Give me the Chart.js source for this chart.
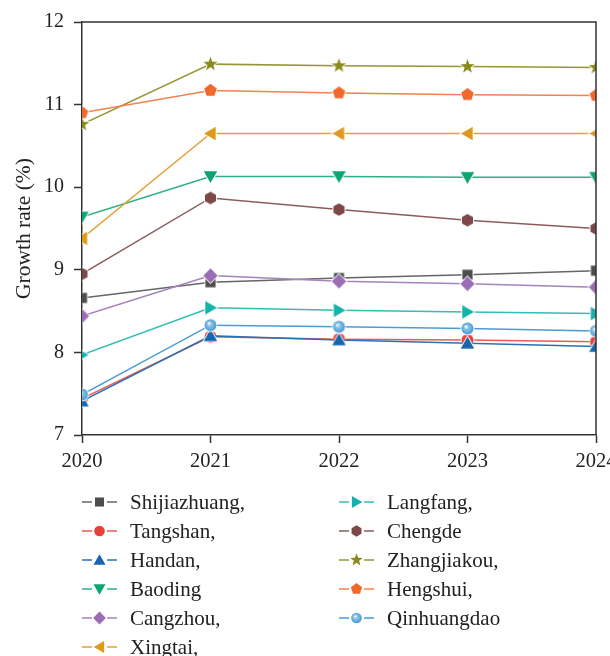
<!DOCTYPE html>
<html>
<head>
<meta charset="utf-8">
<script src="https://cdn.jsdelivr.net/npm/chart.js@4/dist/chart.umd.min.js"></script>
<style>
  html, body { margin: 0; padding: 0; overflow: hidden; background: #fff; }
  #wrap { position: absolute; left: 0; top: 0; width: 640px; height: 656px; }
</style>
</head>
<body>
<div id="wrap"><canvas id="chart" width="640" height="656"></canvas></div>
<script>
// anos e valores
const years = ['2020', '2021', '2022', '2023', '2024'];
const shijiazhuang = [8.66, 8.85, 8.90, 8.94, 8.99];
const tangshan = [7.44, 8.19, 8.16, 8.15, 8.13];
const handan = [7.41, 8.20, 8.15, 8.11, 8.07];
const baoding = [9.64, 10.13, 10.13, 10.12, 10.12];
const cangzhou = [8.44, 8.93, 8.86, 8.83, 8.79];
const xingtai = [9.38, 10.65, 10.65, 10.65, 10.65];
const langfang = [7.97, 8.54, 8.51, 8.49, 8.47];
const chengde = [8.95, 9.87, 9.73, 9.60, 9.50];
const zhangjiakou = [10.76, 11.49, 11.47, 11.46, 11.45];
const hengshui = [10.90, 11.17, 11.14, 11.12, 11.11];
const qinhuangdao = [7.49, 8.33, 8.31, 8.29, 8.26];
const yTicks = [7, 8, 9, 10, 11, 12];

const series = [
  { label: 'Shijiazhuang,', data: shijiazhuang, color: '#4d4d4d', line: '#666666', shape: 'square' },
  { label: 'Tangshan,', data: tangshan, color: '#e8403a', line: '#ec5a52', shape: 'circle' },
  { label: 'Handan,', data: handan, color: '#1565b0', line: '#2a72b8', shape: 'up' },
  { label: 'Baoding', data: baoding, color: '#0ba56f', line: '#2fb080', shape: 'down' },
  { label: 'Cangzhou,', data: cangzhou, color: '#9a6db5', line: '#a583bd', shape: 'diamond' },
  { label: 'Xingtai,', data: xingtai, color: '#df9a1e', line: '#e2a23a', shape: 'left' },
  { label: 'Langfang,', data: langfang, color: '#12b3a8', line: '#34bdb3', shape: 'right' },
  { label: 'Chengde', data: chengde, color: '#7e4848', line: '#8c5c5c', shape: 'hexagon' },
  { label: 'Zhangjiakou,', data: zhangjiakou, color: '#8a8a18', line: '#969634', shape: 'star' },
  { label: 'Hengshui,', data: hengshui, color: '#f2682a', line: '#f28250', shape: 'pentagon' },
  { label: 'Qinhuangdao', data: qinhuangdao, color: '#3e97d1', line: '#4a9cd3', shape: 'sphere' }
];

function poly(c, n, r, start) {
  for (let i = 0; i < n; i++) {
    const a = (start + i * 360 / n) * Math.PI / 180;
    const px = r * Math.cos(a), py = r * Math.sin(a);
    if (i === 0) c.moveTo(px, py); else c.lineTo(px, py);
  }
  c.closePath();
}

function drawMarker(c, shape, x, y, r, color, halo) {
  c.save();
  c.translate(x, y);
  c.beginPath();
  switch (shape) {
    case 'square': c.rect(-r * 0.78, -r * 0.78, r * 1.56, r * 1.56); break;
    case 'circle': c.arc(0, 0, r * 0.92, 0, Math.PI * 2); break;
    case 'sphere': c.arc(0, 0, r * 0.92, 0, Math.PI * 2); break;
    case 'up': c.translate(0, r * 0.2); poly(c, 3, r * 1.2, -90); break;
    case 'down': c.translate(0, -r * 0.2); poly(c, 3, r * 1.2, 90); break;
    case 'left': c.translate(r * 0.2, 0); poly(c, 3, r * 1.2, 180); break;
    case 'right': c.translate(-r * 0.2, 0); poly(c, 3, r * 1.2, 0); break;
    case 'diamond': poly(c, 4, r * 1.1, -90); break;
    case 'hexagon': poly(c, 6, r * 0.98, -90); break;
    case 'pentagon': poly(c, 5, r * 1.02, -90); break;
    case 'star':
      for (let i = 0; i < 10; i++) {
        const a = (-90 + i * 36) * Math.PI / 180;
        const rr = i % 2 === 0 ? r * 1.15 : r * 0.47;
        if (i === 0) c.moveTo(rr * Math.cos(a), rr * Math.sin(a));
        else c.lineTo(rr * Math.cos(a), rr * Math.sin(a));
      }
      c.closePath();
      break;
  }
  if (halo) {
    c.strokeStyle = 'rgba(255,255,255,0.9)';
    c.lineWidth = 2;
    c.stroke();
  }
  if (shape === 'sphere') {
    const g = c.createRadialGradient(-r * 0.25, -r * 0.3, r * 0.05, 0, 0, r);
    g.addColorStop(0, '#ffffff');
    g.addColorStop(0.3, '#8cc4ea');
    g.addColorStop(1, color);
    c.fillStyle = g;
  } else {
    c.fillStyle = color;
  }
  c.fill();
  c.restore();
}

function makePointImage(shape, color, r) {
  const s = Math.ceil(r * 2.6 + 4);
  const cv = document.createElement('canvas');
  cv.width = s; cv.height = s;
  drawMarker(cv.getContext('2d'), shape, s / 2, s / 2, r, color, true);
  return cv;
}

const datasets = series.map(function(s, i) {
  return {
    label: s.label,
    data: s.data,
    borderColor: s.line,
    backgroundColor: s.color,
    borderWidth: 1.5,
    pointStyle: makePointImage(s.shape, s.color, 6.5),
    pointRadius: 7,
    tension: 0,
    clip: 0,
    order: series.length - i
  };
});

// moldura de cima e da direita
const frame = {
  id: 'frame',
  afterDraw(chart) {
    const a = chart.chartArea, c = chart.ctx;
    c.save();
    c.strokeStyle = '#333';
    c.lineWidth = 1.5;
    c.beginPath();
    c.moveTo(a.left, a.top);
    c.lineTo(a.right, a.top);
    c.lineTo(a.right, a.bottom);
    c.stroke();
    c.restore();
  }
};

// legenda em duas colunas
const legenda = {
  id: 'legenda',
  afterDraw(chart) {
    const c = chart.ctx;
    c.save();
    c.font = '21px "Liberation Serif", "DejaVu Serif", serif';
    c.textBaseline = 'middle';
    series.forEach(function(s, i) {
      const col = i < 6 ? 0 : 1;
      const row = i < 6 ? i : i - 6;
      const x0 = col === 0 ? 82 : 339;
      const y = 502 + row * 29;
      c.strokeStyle = s.line;
      c.lineWidth = 1.5;
      c.beginPath();
      c.moveTo(x0, y); c.lineTo(x0 + 10, y);
      c.moveTo(x0 + 25, y); c.lineTo(x0 + 35, y);
      c.stroke();
      drawMarker(c, s.shape, x0 + 17.5, y, 5.8, s.color, false);
      c.fillStyle = '#222';
      c.fillText(s.label, x0 + 48, y + 1);
    });
    c.restore();
  }
};

const serif = '"Liberation Serif", "DejaVu Serif", serif';
const ctx = document.getElementById('chart').getContext('2d');
const chart = new Chart(ctx, {
  type: 'line',
  data: { labels: years, datasets: datasets },
  options: {
    responsive: false,
    animation: false,
    layout: { padding: { top: 18, right: 44, left: 0, bottom: 0 } },
    plugins: { legend: { display: false }, tooltip: { enabled: false } },
    scales: {
      x: {
        offset: false,
        grid: { drawOnChartArea: false, drawTicks: true, tickLength: 8, tickColor: '#333', tickWidth: 1.5 },
        border: { color: '#333', width: 1.5 },
        ticks: { color: '#222', font: { family: serif, size: 20.5 }, padding: 6, maxRotation: 0 },
        afterFit: function(scale) { scale.height = 656 - 435; }
      },
      y: {
        min: 7,
        max: 12,
        afterBuildTicks: function(scale) { scale.ticks = yTicks.map(function(v) { return { value: v }; }); },
        grid: { drawOnChartArea: false, drawTicks: true, tickLength: 8, tickColor: '#333', tickWidth: 1.5 },
        border: { color: '#333', width: 1.5 },
        ticks: { color: '#222', font: { family: serif, size: 20 }, padding: 10 },
        title: { display: true, text: 'Growth rate (%)', color: '#222', font: { family: serif, size: 21.5 }, padding: { top: 11, bottom: 0 } },
        afterFit: function(scale) { scale.width = 82; }
      }
    }
  },
  plugins: [frame, legenda]
});
</script>
</body>
</html>
